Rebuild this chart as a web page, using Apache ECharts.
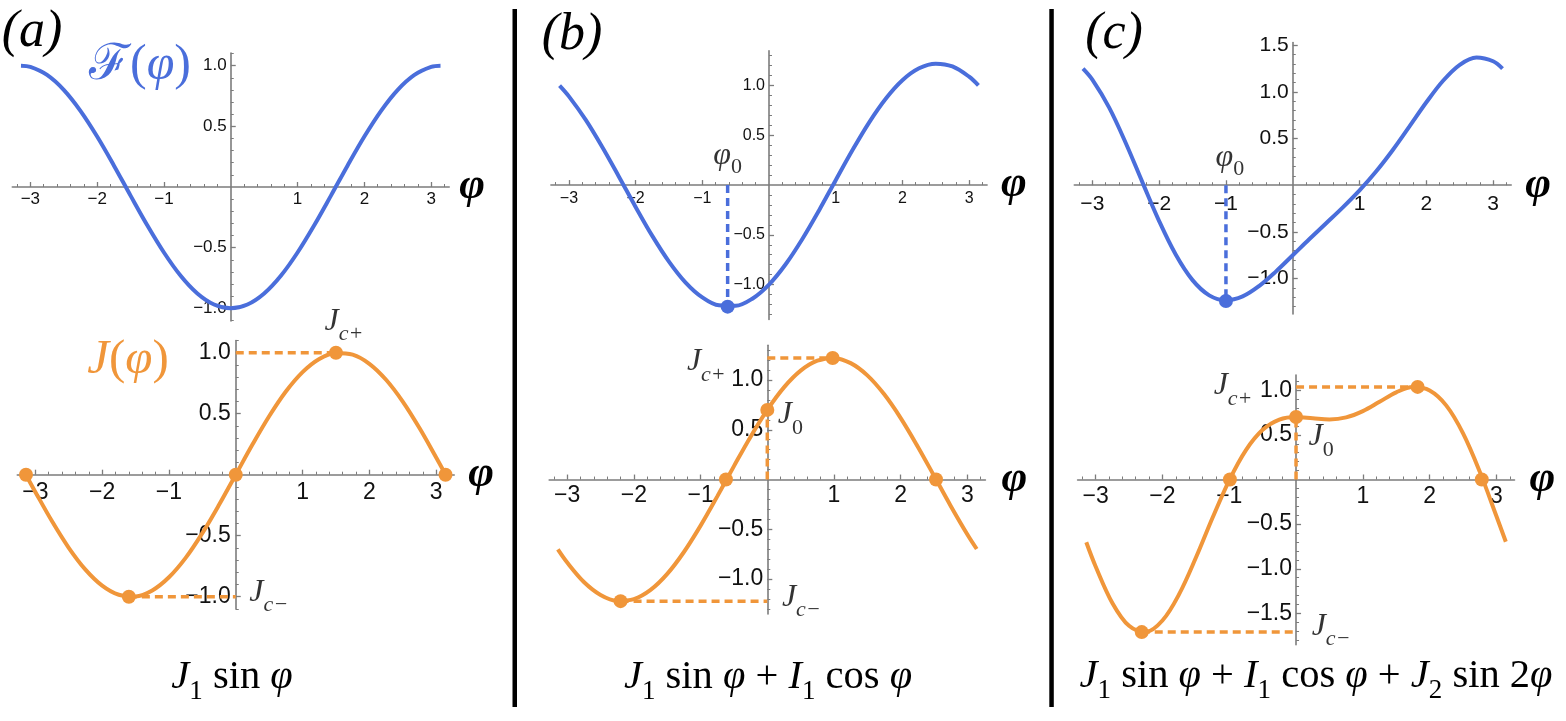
<!DOCTYPE html>
<html><head><meta charset="utf-8">
<script src="https://cdn.jsdelivr.net/npm/echarts@6/dist/echarts.min.js"></script>
<style>html,body{margin:0;padding:0;background:#fff}#c{width:1566px;height:721px}</style>
</head><body><div id="c"></div>
<script>
// ---------------- data ----------------
const phi = [-3.14,-3.0,-2.75,-2.5,-2.25,-2.0,-1.75,-1.5,-1.25,-1.0,-0.75,-0.5,-0.25,0,0.25,0.5,0.75,1.0,1.25,1.5,1.75,2.0,2.25,2.5,2.75,3.0,3.14];
const Fa = [1.0,0.990,0.924,0.801,0.628,0.416,0.178,-0.071,-0.315,-0.540,-0.732,-0.878,-0.969,-1.0,-0.969,-0.878,-0.732,-0.540,-0.315,-0.071,0.178,0.416,0.628,0.801,0.924,0.990,1.0];
const Ja = [-0.002,-0.141,-0.382,-0.599,-0.778,-0.909,-0.984,-0.998,-0.949,-0.841,-0.682,-0.479,-0.247,0,0.247,0.479,0.682,0.841,0.949,0.998,0.984,0.909,0.778,0.599,0.382,0.141,0.002];
const Fb = [0.999,0.891,0.657,0.382,0.084,-0.220,-0.511,-0.769,-0.980,-1.129,-1.209,-1.213,-1.142,-1.0,-0.796,-0.542,-0.255,0.049,0.349,0.628,0.867,1.053,1.173,1.220,1.192,1.089,1.001];
const Jb = [-0.702,-0.834,-1.029,-1.159,-1.218,-1.201,-1.109,-0.948,-0.728,-0.463,-0.169,0.135,0.431,0.7,0.926,1.094,1.194,1.220,1.170,1.047,0.859,0.618,0.338,0.038,-0.265,-0.552,-0.698];
const Fc = [1.249,1.131,0.834,0.453,0.031,-0.384,-0.745,-1.017,-1.180,-1.233,-1.191,-1.078,-0.923,-0.75,-0.576,-0.407,-0.237,-0.055,0.149,0.380,0.633,0.889,1.120,1.291,1.369,1.329,1.251];
const Jc = [-0.703,-0.974,-1.382,-1.639,-1.707,-1.579,-1.284,-0.877,-0.429,-0.009,0.329,0.556,0.671,0.7,0.686,0.673,0.695,0.765,0.870,0.976,1.035,0.996,0.827,0.517,0.088,-0.412,-0.697];

const zerosA = [-3.14, 0, 3.14];
const zerosB = [-0.62, 2.53];
const zerosC = [-0.99, 2.78];
const jcPlus = [[1.5, 1.0], [0.98, 1.222], [1.82, 1.037]];
const jcMinus = [[-1.6, -1.0], [-2.2, -1.222], [-2.31, -1.709]];
const j0 = [null, 0.7, 0.7];
const phi0 = [null, -0.62, -1.0];
const fMin = [null, -1.222, -1.24];

const xTicks = [-3, -2, -1, 1, 2, 3];
const yTicksA = [-1, -0.5, 0.5, 1];
const yTicksB = [-1, -0.5, 0.5, 1];
const yTicksCF = [-1, -0.5, 0.5, 1, 1.5];
const yTicksCJ = [-1.5, -1, -0.5, 0.5, 1];
const panelTags = ['(a)', '(b)', '(c)'];

// ---------------- style ----------------
const SANS = "'Liberation Sans', Arial, Helvetica, sans-serif";
const SERIF = "'Liberation Serif', 'Times New Roman', 'DejaVu Serif', serif";
const BLUE = '#4a6edb', ORANGE = '#f0963a', AXIS = '#7c7c7c', TXT = '#111';

const grids = [
  {box:[12.3, 53.0, 436.9, 268.0], xr:[-3.27,3.27], yr:[-1.105,1.105], fs:17, xm:4, ym:4, gap:10, yt:yTicksA},
  {box:[17.3, 340.5, 436.9, 268.4], xr:[-3.27,3.27], yr:[-1.1,1.1], fs:23, xm:6, ym:5, gap:14, yt:yTicksA},
  {box:[550.9, 50.7, 436.2, 268.7], xr:[-3.27,3.27], yr:[-1.35,1.35], fs:16, xm:6, ym:4, gap:14, yt:yTicksB},
  {box:[549.2, 345.2, 436.2, 268.7], xr:[-3.27,3.27], yr:[-1.35,1.35], fs:23, xm:5, ym:4, gap:16, yt:yTicksB},
  {box:[1074.3, 42.5, 436.9, 271.5], xr:[-3.27,3.27], yr:[-1.38,1.53], fs:21, xm:8, ym:4, gap:14, yt:yTicksCF},
  {box:[1077.6, 375.0, 436.9, 269.7], xr:[-3.27,3.27], yr:[-1.85,1.17], fs:23, xm:6, ym:4, gap:15, yt:yTicksCJ}
];

function minorList(lo, hi, step, major) {
  const out = [];
  for (let k = Math.ceil(lo / step - 1e-9); k * step <= hi + 1e-9; k++) {
    const v = +(k * step).toFixed(3);
    const r = v / major;
    if (Math.abs(r - Math.round(r)) > 1e-6) out.push(v);
  }
  return out;
}
const minus = s => s.replace('-', '\u2212');
const fmtX = v => minus(String(Math.round(v)));
const fmtY = v => minus(v.toFixed(1));

function subL(F, f, d) { return Math.round(2 * (d + 0.34 * (F - f) + f / 2)); }
function richSet(F, f, d, color) {
  const L = subL(F, f, d);
  const base = {fontFamily: SERIF, color: color, fill: color};
  return {
    m: Object.assign({}, base, {fontStyle: 'italic', fontSize: F, lineHeight: L}),
    r: Object.assign({}, base, {fontStyle: 'normal', fontSize: F, lineHeight: L}),
    s: Object.assign({}, base, {fontStyle: 'normal', fontSize: f, lineHeight: f, verticalAlign: 'bottom'}),
    si: Object.assign({}, base, {fontStyle: 'italic', fontSize: f, lineHeight: f, verticalAlign: 'bottom'}),
    f: Object.assign({}, base, {fontFamily: "'DejaVu Serif', 'Liberation Serif', serif", fontStyle: 'normal', fontSize: F, lineHeight: L})
  };
}

// ---------------- axes (placed through the origin by offset) ----------------
const gridOpts = [], xAxes = [], yAxes = [];
grids.forEach((g, i) => {
  gridOpts.push({left: g.box[0], top: g.box[1], width: g.box[2], height: g.box[3], containLabel: false, outerBoundsMode: 'none'});
  const offX = -g.box[3] * (0 - g.yr[0]) / (g.yr[1] - g.yr[0]);
  const offY = -g.box[2] * (0 - g.xr[0]) / (g.xr[1] - g.xr[0]);
  xAxes.push({
    gridIndex: i, type: 'value', min: g.xr[0], max: g.xr[1], position: 'bottom', offset: offX,
    axisLine: {show: true, onZero: false, lineStyle: {color: AXIS, width: 1.6}},
    axisTick: {show: true, inside: true, length: 5, customValues: xTicks, lineStyle: {color: AXIS, width: 1.3}},
    axisLabel: {show: true, customValues: xTicks, formatter: fmtX, fontSize: g.fs, fontFamily: SANS, color: TXT, margin: g.xm, hideOverlap: false},
    splitLine: {show: false},
    name: 'φ', nameLocation: 'end', nameGap: g.gap, nameMoveOverlap: false,
    nameTextStyle: {fontFamily: SERIF, fontStyle: 'italic', fontWeight: 'bold', fontSize: 44, color: '#000', verticalAlign: 'middle', align: 'left'}
  });
  xAxes.push({
    gridIndex: i, type: 'value', min: g.xr[0], max: g.xr[1], position: 'bottom', offset: offX,
    axisLine: {show: false, onZero: false},
    axisTick: {show: true, inside: true, length: 3, customValues: minorList(-3.2, 3.2, 0.2, 1), lineStyle: {color: AXIS, width: 1}},
    axisLabel: {show: false}, splitLine: {show: false}
  });
  yAxes.push({
    gridIndex: i, type: 'value', min: g.yr[0], max: g.yr[1], position: 'left', offset: offY,
    axisLine: {show: true, onZero: false, lineStyle: {color: AXIS, width: 1.6}},
    axisTick: {show: true, inside: true, length: 5, customValues: g.yt, lineStyle: {color: AXIS, width: 1.3}},
    axisLabel: {show: true, customValues: g.yt, formatter: fmtY, fontSize: g.fs, fontFamily: SANS, color: TXT, margin: g.ym, hideOverlap: false},
    splitLine: {show: false}
  });
  yAxes.push({
    gridIndex: i, type: 'value', min: g.yr[0], max: g.yr[1], position: 'left', offset: offY,
    axisLine: {show: false, onZero: false},
    axisTick: {show: true, inside: true, length: 3, customValues: minorList(g.yr[0], g.yr[1], 0.1, 0.5), lineStyle: {color: AXIS, width: 1}},
    axisLabel: {show: false}, splitLine: {show: false}
  });
});

// ---------------- series ----------------
const Fs = [Fa, Fb, Fc], Js = [Ja, Jb, Jc], zeros = [zerosA, zerosB, zerosC];
const labOff = [
  {cpAtDot: true, cp: [8, -31], cm: [33, -4]},
  {cpAtDot: false, cp: [-61, 4], cm: [34, -4], j0: [23, 5], p0: [0, -29]},
  {cpAtDot: false, cp: [-63, -1], cm: [35, -6], j0: [25, 20], p0: [4, -28]}
];
const labRich = richSet(32, 22, 9.5, '#000');
const p0Rich = richSet(32, 22, 8, '#000');
const series = [];
const ax = g => ({xAxisIndex: 2 * g, yAxisIndex: 2 * g});
function dash(g, pts, color) {
  series.push(Object.assign({type: 'line', data: pts, symbol: 'none', silent: true, z: 2,
    lineStyle: {color: color, width: 3.5, type: [8, 5]}}, ax(g)));
}
for (let p = 0; p < 3; p++) {
  const gF = 2 * p, gJ = 2 * p + 1;
  series.push(Object.assign({type: 'line', data: phi.map((x, i) => [x, Fs[p][i]]), smooth: 0.35, symbol: 'none', silent: true, z: 3,
    lineStyle: {color: BLUE, width: 4}}, ax(gF)));
  series.push(Object.assign({type: 'line', data: phi.map((x, i) => [x, Js[p][i]]), smooth: 0.35, symbol: 'none', silent: true, z: 3,
    lineStyle: {color: ORANGE, width: 4}}, ax(gJ)));
  dash(gJ, [[0, jcPlus[p][1]], jcPlus[p]], ORANGE);
  dash(gJ, [jcMinus[p], [0, jcMinus[p][1]]], ORANGE);
  if (j0[p] != null) dash(gJ, [[0, 0], [0, j0[p]]], ORANGE);
  if (phi0[p] != null) dash(gF, [[phi0[p], 0], [phi0[p], fMin[p]]], BLUE);
  const dots = zeros[p].map(z => [z, 0]).concat([jcPlus[p], jcMinus[p]]);
  if (j0[p] != null) dots.push([0, j0[p]]);
  series.push(Object.assign({type: 'scatter', data: dots, symbolSize: 14, itemStyle: {color: ORANGE, opacity: 1}, z: 5, silent: true}, ax(gJ)));
  if (phi0[p] != null)
    series.push(Object.assign({type: 'scatter', data: [[phi0[p], fMin[p]]], symbolSize: 14, itemStyle: {color: BLUE, opacity: 1}, z: 5, silent: true}, ax(gF)));
  const o = labOff[p];
  const lab = (pt, txt, off) => ({value: pt, label: {show: true, position: 'inside', formatter: txt, offset: off, rich: labRich}});
  const jl = [
    lab(o.cpAtDot ? jcPlus[p] : [0, jcPlus[p][1]], '{m|J}{si|c+}', o.cp),
    lab([0, jcMinus[p][1]], '{m|J}{si|c\u2212}', o.cm)
  ];
  if (j0[p] != null) jl.push(lab([0, j0[p]], '{m|J}{s|0}', o.j0));
  series.push(Object.assign({type: 'scatter', data: jl, symbolSize: 1, itemStyle: {color: 'rgba(0,0,0,0)'}, z: 6, silent: true}, ax(gJ)));
  if (phi0[p] != null) {
    series.push(Object.assign({type: 'scatter', symbolSize: 1, itemStyle: {color: 'rgba(0,0,0,0)'}, z: 6, silent: true,
      data: [{value: [phi0[p], 0], label: {show: true, position: 'inside', formatter: '{m|φ}{s|0}', offset: o.p0, rich: p0Rich}}]}, ax(gF)));
  }
}

// ---------------- free text & separators ----------------
const graphics = [
  {type: 'rect', shape: {x: 512.5, y: 9, width: 4.5, height: 698}, style: {fill: '#000'}},
  {type: 'rect', shape: {x: 1049.3, y: 9, width: 4.5, height: 698}, style: {fill: '#000'}}
];
function addText(x, y, text, rich, fill) {
  graphics.push({type: 'text', x: x, y: y, z: 10, style: {text: text, rich: rich, fill: fill,
    align: 'center', verticalAlign: 'middle', textAlign: 'center', textVerticalAlign: 'middle'}});
}
const tagRich = richSet(52, 30, 10, '#000');
addText(32, 32, '{m|' + panelTags[0] + '}', tagRich, '#000');
addText(572, 35, '{m|' + panelTags[1] + '}', tagRich, '#000');
addText(1114, 34, '{m|' + panelTags[2] + '}', tagRich, '#000');
addText(140, 66, '{f|ℱ}{r|(}{m|φ}{r|)}', richSet(50, 30, 10, BLUE), BLUE);
addText(128, 360, '{m|J}{r|(}{m|φ}{r|)}', richSet(49, 30, 10, ORANGE), ORANGE);
const fRich = richSet(40.5, 27, 10.5, '#000');
addText(232, 677, '{m|J}{s|1}{r| sin }{m|φ}', fRich, '#000');
addText(768, 677, '{m|J}{s|1}{r| sin }{m|φ}{r| + }{m|I}{s|1}{r| cos }{m|φ}', fRich, '#000');
addText(1316, 676, '{m|J}{s|1}{r| sin }{m|φ}{r| + }{m|I}{s|1}{r| cos }{m|φ}{r| + }{m|J}{s|2}{r| sin 2}{m|φ}', fRich, '#000');

const chart = echarts.init(document.getElementById('c'), null, {renderer: 'canvas'});
chart.setOption({
  animation: false,
  backgroundColor: '#fff',
  grid: gridOpts, xAxis: xAxes, yAxis: yAxes,
  series: series,
  graphic: {elements: graphics}
});
</script>
</body></html>
